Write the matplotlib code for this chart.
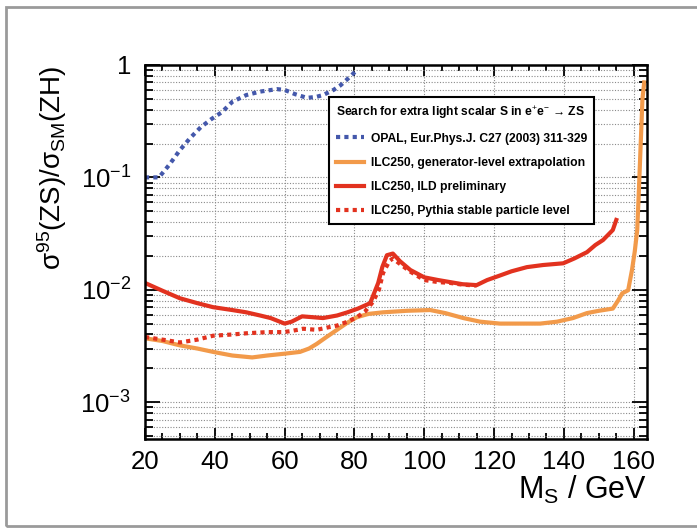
import matplotlib
matplotlib.use("Agg")
import matplotlib.pyplot as plt
from matplotlib.ticker import FixedLocator, FuncFormatter, MultipleLocator, LogLocator, NullFormatter
from matplotlib.patches import Rectangle

plt.rcParams['font.family'] = ['Liberation Sans', 'DejaVu Sans']
plt.rcParams['mathtext.fontset'] = 'custom'
plt.rcParams['mathtext.rm'] = 'Liberation Sans'
plt.rcParams['mathtext.it'] = 'Liberation Sans:italic'
plt.rcParams['mathtext.bf'] = 'Liberation Sans:bold'

# OPAL limit (blue dotted)
m_opal = [20, 24, 27, 30, 33, 36, 39, 42, 45, 49, 53, 57.8, 60, 63, 66.4, 69, 71, 74, 76, 78, 80.2]
v_opal = [0.1, 0.1, 0.13, 0.175, 0.225, 0.28, 0.33, 0.38, 0.47, 0.54, 0.58, 0.61, 0.6, 0.55,
          0.51, 0.52, 0.54, 0.6, 0.66, 0.75, 0.87]

# ILC250 generator-level extrapolation (orange)
m_gen = [20, 25, 30, 35, 39.5, 45, 50.7, 55, 60, 64.4, 67, 69.2, 72, 75, 78, 80.7, 84, 88.2,
         95, 101.7, 106, 111.2, 116, 121.7, 127, 133.2, 138, 142.6, 146.6, 150, 154, 155.5,
         156.7, 158.4, 159.5, 160.3, 161, 161.5, 162, 162.5, 163]
v_gen = [0.0037, 0.0035, 0.0032, 0.0030, 0.0028, 0.0026, 0.0025, 0.0026, 0.0027, 0.0028,
         0.0030, 0.0033, 0.0038, 0.0044, 0.0051, 0.0057, 0.0061, 0.0063, 0.0065, 0.0066,
         0.0062, 0.0056, 0.0052, 0.0050, 0.0050, 0.0050, 0.0052, 0.0056, 0.0062, 0.0065,
         0.0068, 0.0080, 0.0093, 0.0099, 0.015, 0.022, 0.034, 0.08, 0.2, 0.5, 0.7]

# ILC250 ILD preliminary (red solid)
m_ild = [20, 25, 30, 35, 39.5, 45, 49, 53, 56, 60, 62, 65, 68, 71, 75, 78, 81, 84.5, 86.8, 88,
         89.3, 91, 93, 96, 100, 104, 107.4, 111, 115, 118, 121.7, 125, 129.4, 134, 139.8, 143,
         146.6, 149, 151.2, 154, 155]
v_ild = [0.0115, 0.0098, 0.0084, 0.0076, 0.0070, 0.0066, 0.0063, 0.0059, 0.0056, 0.0050,
         0.0052, 0.0058, 0.0057, 0.0056, 0.0059, 0.0063, 0.0068, 0.0076, 0.0115, 0.016,
         0.0203, 0.021, 0.018, 0.015, 0.0129, 0.0122, 0.0117, 0.0112, 0.0110, 0.0122, 0.0134,
         0.0146, 0.0159, 0.0166, 0.0172, 0.019, 0.0216, 0.025, 0.0277, 0.034, 0.0418]

# ILC250 Pythia stable particle level (red dotted)
m_pyt = [20, 25, 30, 35, 39.5, 45, 49, 55, 59.6, 62, 65.3, 69.2, 72, 75, 78, 80.7, 83, 85.3,
         87, 88.2, 90, 91, 93, 96, 100, 104, 107.4, 111, 115]
v_pyt = [0.0038, 0.0036, 0.0034, 0.0036, 0.0039, 0.0040, 0.0041, 0.0042, 0.0042, 0.0043,
         0.0045, 0.0044, 0.0046, 0.0048, 0.0052, 0.0057, 0.0064, 0.0078, 0.010, 0.0141,
         0.018, 0.019, 0.017, 0.0145, 0.0122, 0.0117, 0.0115, 0.0111, 0.0109]

ytick_vals = [1e-3, 1e-2, 1e-1, 1]
ytick_labels = ['$10^{-3}$', '$10^{-2}$', '$10^{-1}$', '1']

blue = '#4458ab'
orange = '#f29a4a'
red = '#e2321f'

fig = plt.figure(figsize=(6.97, 5.28), dpi=100)
fig.patches.append(Rectangle((6 / 697, 2 / 528), 1.2, 519 / 528, transform=fig.transFigure,
                             fill=False, edgecolor='#9a9a9a', linewidth=2))
ax = fig.add_axes([145 / 697, 1 - 439 / 528, 502 / 697, 374 / 528])

ax.plot(m_opal, v_opal, color=blue, lw=3, ls=(0, (1, 1)),
        label='OPAL, Eur.Phys.J. C27 (2003) 311-329')
ax.plot(m_gen, v_gen, color=orange, lw=3, label='ILC250, generator-level extrapolation')
ax.plot(m_ild, v_ild, color=red, lw=3, label='ILC250, ILD preliminary')
ax.plot(m_pyt, v_pyt, color=red, lw=3, ls=(0, (1, 1)),
        label='ILC250, Pythia stable particle level')

ax.set_yscale('log')
ax.set_xlim(20, 163.8)
ax.set_ylim(4.7e-4, 1)

ax.xaxis.set_major_locator(MultipleLocator(20))
ax.xaxis.set_minor_locator(MultipleLocator(5))
ax.yaxis.set_major_locator(FixedLocator(ytick_vals))
ax.yaxis.set_major_formatter(FuncFormatter(lambda v, p: ytick_labels[ytick_vals.index(v)]
                                           if v in ytick_vals else ''))
ax.yaxis.set_minor_locator(LogLocator(base=10, subs=range(2, 10)))
ax.yaxis.set_minor_formatter(NullFormatter())

ax.tick_params(which='both', direction='in', top=True, right=True, width=1.3, labelsize=18.5)
ax.tick_params(axis='x', which='major', length=8, pad=8)
ax.tick_params(axis='x', which='minor', length=4)
ax.tick_params(axis='y', which='major', length=11, pad=10)
ax.tick_params(axis='y', which='minor', length=6)
for s in ax.spines.values():
    s.set_linewidth(1.8)

ax.grid(True, axis='x', which='major', ls=(0, (1, 1.5)), color='#8a8a8a', lw=0.8)
ax.grid(True, axis='y', which='both', ls=(0, (1, 1.5)), color='#8a8a8a', lw=0.8)

ax.set_xlabel('M$_{\\mathrm{S}}$ / GeV', fontsize=22, loc='right', labelpad=0)
ax.set_ylabel('σ$^{95}$(ZS)/σ$_{\\mathrm{SM}}$(ZH)', fontsize=20, loc='top', labelpad=8)

leg = ax.legend(loc='upper left', bbox_to_anchor=(0.367, 0.914),
                title='Search for extra light scalar S in e$^{+}$e$^{-}$ → ZS',
                prop={'weight': 'bold', 'size': 8.7},
                title_fontproperties={'weight': 'bold', 'size': 8.7},
                alignment='left', fancybox=False, framealpha=1, edgecolor='black',
                handlelength=2.3, handletextpad=0.6, labelspacing=1.0, borderpad=0.55,
                borderaxespad=0)
leg.get_frame().set_linewidth(1.5)

fig.savefig('out.png', dpi=100)
